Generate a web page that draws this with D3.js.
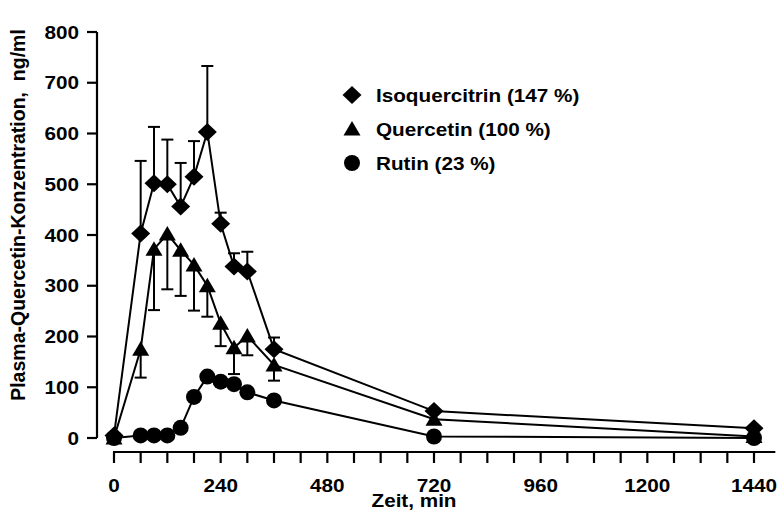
<!DOCTYPE html>
<html>
<head>
<meta charset="utf-8">
<script src="https://cdn.jsdelivr.net/npm/d3@7"></script>
<style>
  body { margin: 0; background: #fff; }
  svg { display: block; }
  text { font-family: "Liberation Sans", Arial, sans-serif; font-weight: bold; fill: #000; }
</style>
</head>
<body>
<div id="chart"></div>
<script>
// data
const times = [0, 60, 90, 120, 150, 180, 210, 240, 270, 300, 360, 720, 1440];
const isoMean = [5, 403, 502, 500, 456, 515, 603, 422, 338, 328, 175, 53, 19];
const isoSd   = [0, 143, 111, 88, 86, 70, 130, 22, 26, 39, 23, 0, 0];
const queMean = [0, 175, 372, 402, 370, 341, 300, 226, 178, 201, 144, 37, 3];
const queSd   = [0, 56, 120, 109, 90, 90, 61, 45, 52, 38, 31, 0, 0];
const rutMean = [0, 5, 5, 5, 20, 81, 121, 111, 106, 90, 74, 3, 0];

const yTicks = [0, 100, 200, 300, 400, 500, 600, 700, 800];
const xTickLabels = [0, 240, 480, 720, 960, 1200, 1440];
const legendLabels = ["Isoquercitrin (147 %)", "Quercetin (100 %)", "Rutin (23 %)"];

const W = 777, H = 511;
const STRETCH = 1.15; // text in the picture is a bit wide

const svg = d3.select("#chart").append("svg")
  .attr("width", W)
  .attr("height", H);

const x = d3.scaleLinear().domain([0, 1440]).range([114, 754]);
const y = d3.scaleLinear().domain([0, 800]).range([438, 32]);

// marker shapes
function diamond(cx, cy){
  return `M${cx},${cy-9} L${cx+9.5},${cy} L${cx},${cy+9} L${cx-9.5},${cy} Z`;
}
function triangle(cx, cy){
  return `M${cx},${cy-8} L${cx+8.5},${cy+6.5} L${cx-8.5},${cy+6.5} Z`;
}
function circle(cx, cy){
  return `M${cx-8},${cy} A8,8 0 1,0 ${cx+8},${cy} A8,8 0 1,0 ${cx-8},${cy} Z`;
}

// axes
const yAxisX = 97;
svg.append("line")
  .attr("x1", yAxisX).attr("x2", yAxisX)
  .attr("y1", y(0)).attr("y2", y(800))
  .attr("stroke", "#000").attr("stroke-width", 2.2);

const yt = svg.append("g").selectAll("g").data(yTicks).enter().append("g");
yt.append("line")
  .attr("x1", yAxisX - 10).attr("x2", yAxisX)
  .attr("y1", d => y(d)).attr("y2", d => y(d))
  .attr("stroke", "#000").attr("stroke-width", 2.2);
yt.append("text")
  .attr("transform", d => `translate(79,${y(d) + 6.5}) scale(${STRETCH},1)`)
  .attr("text-anchor", "end")
  .style("font-size", "18px")
  .text(d => d);

const xAxisY = 452;
svg.append("line")
  .attr("x1", x(0) - 1).attr("x2", x(1488))
  .attr("y1", xAxisY).attr("y2", xAxisY)
  .attr("stroke", "#000").attr("stroke-width", 2.2);

svg.append("g").selectAll("line").data(d3.range(0, 1441, 60)).enter().append("line")
  .attr("x1", d => x(d)).attr("x2", d => x(d))
  .attr("y1", xAxisY).attr("y2", xAxisY + 11)
  .attr("stroke", "#000").attr("stroke-width", 2.2);

svg.append("g").selectAll("text").data(xTickLabels).enter().append("text")
  .attr("transform", d => `translate(${x(d)},491.5) scale(${STRETCH},1)`)
  .attr("text-anchor", "middle")
  .style("font-size", "18px")
  .text(d => d);

svg.append("text")
  .attr("transform", `translate(414,507) scale(${STRETCH},1)`)
  .attr("text-anchor", "middle")
  .style("font-size", "18px")
  .text("Zeit,  min");

svg.append("text")
  .attr("transform", "translate(25,215) rotate(-90)")
  .attr("text-anchor", "middle")
  .style("font-size", "19.5px")
  .style("white-space", "pre")
  .text("Plasma-Quercetin-Konzentration,  ng/ml");

// series
const series = [
  {mean: isoMean, sd: isoSd, dir: 1, shape: diamond},
  {mean: queMean, sd: queSd, dir: -1, shape: triangle},
  {mean: rutMean, sd: null, dir: 0, shape: circle}
];

const line = d3.line().x(d => x(d[0])).y(d => y(d[1]));

series.forEach(s => {
  const pts = times.map((t, i) => [t, s.mean[i], s.sd ? s.sd[i] : 0]);

  svg.append("path")
    .datum(pts)
    .attr("d", line)
    .attr("fill", "none")
    .attr("stroke", "#000")
    .attr("stroke-width", 2);

  const eb = svg.append("g").selectAll("g")
    .data(pts.filter(p => p[2] > 0))
    .enter().append("g");
  eb.append("line")
    .attr("x1", d => x(d[0])).attr("x2", d => x(d[0]))
    .attr("y1", d => y(d[1])).attr("y2", d => y(d[1] + s.dir * d[2]))
    .attr("stroke", "#000").attr("stroke-width", 2);
  eb.append("line")
    .attr("x1", d => x(d[0]) - 6).attr("x2", d => x(d[0]) + 6)
    .attr("y1", d => y(d[1] + s.dir * d[2])).attr("y2", d => y(d[1] + s.dir * d[2]))
    .attr("stroke", "#000").attr("stroke-width", 2);

  svg.append("g").selectAll("path").data(pts).enter().append("path")
    .attr("d", d => s.shape(x(d[0]), y(d[1])))
    .attr("fill", "#000");
});

// legend
const legendShapes = [diamond, triangle, circle];
const lg = svg.append("g").selectAll("g").data(legendLabels).enter().append("g");
lg.append("path")
  .attr("d", (d, i) => legendShapes[i](352, 95 + i * 34))
  .attr("fill", "#000");
lg.append("text")
  .attr("transform", (d, i) => `translate(376,${95 + i * 34 + 6.5}) scale(${STRETCH},1)`)
  .style("font-size", "18px")
  .text(d => d);
</script>
</body>
</html>
